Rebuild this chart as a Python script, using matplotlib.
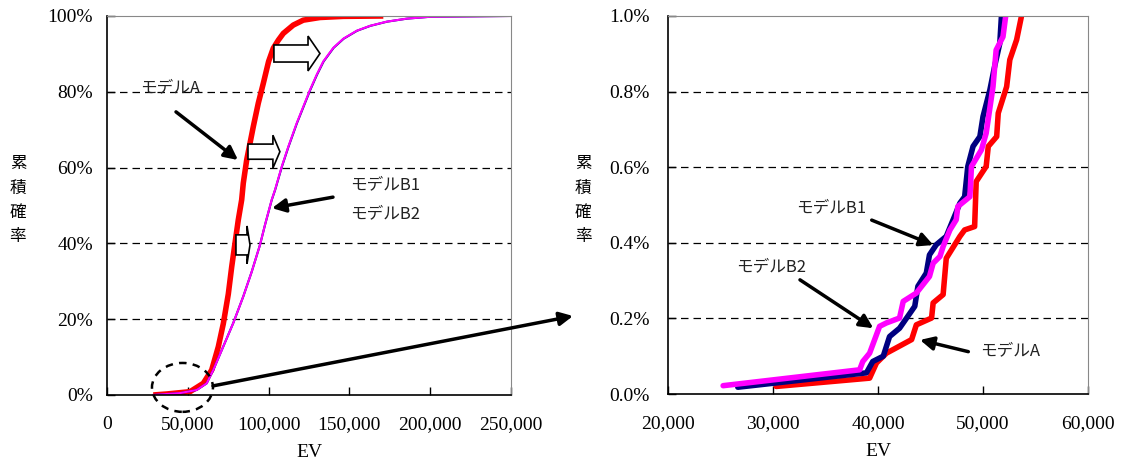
import numpy as np
import matplotlib.pyplot as plt
from matplotlib.patches import Ellipse, FancyArrow

plt.rcParams['font.family'] = ['Liberation Serif', 'Noto Sans CJK JP']
plt.rcParams['font.size'] = 14

# 全体の累積確率 (EV, %)
ev_a = [28650, 36950, 51360, 59590, 64790, 68870, 71970, 75060, 77170, 79200, 81250,
        83350, 84340, 86440, 88490, 90530, 93630, 96720, 100000, 102910, 106000, 109100,
        115280, 121470, 131800, 146220, 171000]
p_a = [0, 0.26, 0.87, 3.08, 6.6, 12.7, 18.8, 26.6, 33.8, 40.0, 46.2,
       51.5, 55.9, 62.0, 66.4, 70.8, 77.0, 82.2, 88.0, 91.5, 93.6, 95.4,
       97.6, 98.9, 99.6, 99.9, 100]

ev_b1 = [28650, 45170, 55510, 61700, 65780, 71970, 78150, 84340, 89540, 94680, 97800,
         101980, 104050, 108200, 112320, 117530, 125800, 129950, 134050, 140250, 146450,
         154750, 163000, 173300, 185700, 200200, 249400]
p_b1 = [0, 0.5, 1.32, 3.08, 6.6, 12.8, 19.0, 26.0, 32.5, 39.6, 44.9,
        51.5, 54.1, 60.2, 65.5, 71.7, 80.5, 84.5, 88.0, 91.6, 94.0,
        96.1, 97.4, 98.5, 99.3, 99.8, 100]

ev_b2 = [28650, 45170, 55510, 61700, 65780, 71970, 78150, 84340, 89540, 94680, 97770,
         101920, 103960, 108100, 112190, 117380, 125620, 129770, 133850, 140040, 146220,
         154510, 162740, 173080, 185450, 200000, 249400]
p_b2 = [0, 0.5, 1.32, 3.08, 6.6, 12.8, 19.0, 26.0, 32.5, 39.6, 44.9,
        51.5, 54.1, 60.2, 65.5, 71.7, 80.5, 84.5, 88.0, 91.6, 94.0,
        96.1, 97.4, 98.5, 99.3, 99.8, 100]

# 下側 1% の拡大 (EV, %)
ev_a_low = [30300, 39200, 39850, 40800, 43200, 43650, 45100, 45250, 46200, 46500, 47800,
            48250, 49200, 49350, 50300, 50500, 51300, 51450, 52250, 52550, 53200, 53650, 53900]
p_a_low = [0.020, 0.042, 0.082, 0.108, 0.144, 0.183, 0.201, 0.241, 0.263, 0.359, 0.417,
           0.434, 0.443, 0.562, 0.602, 0.655, 0.681, 0.743, 0.813, 0.884, 0.937, 0.998, 1.05]

ev_b1_low = [26650, 38900, 39500, 40500, 41100, 42050, 43500, 43800, 44600, 44900, 45550,
             46500, 47150, 47800, 48250, 48550, 49050, 49700, 50000, 50650, 51100, 51600, 51750, 51850]
p_b1_low = [0.018, 0.056, 0.086, 0.100, 0.152, 0.174, 0.232, 0.285, 0.320, 0.368, 0.395,
            0.417, 0.461, 0.505, 0.522, 0.602, 0.655, 0.681, 0.734, 0.804, 0.866, 0.928, 0.998, 1.05]

ev_b2_low = [25250, 38250, 38550, 39200, 40150, 40800, 42050, 42400, 43650, 44900, 45250,
             45900, 46200, 46850, 47450, 47600, 48750, 48900, 49850, 50300, 50950, 51250, 51900, 52150, 52250]
p_b2_low = [0.022, 0.064, 0.086, 0.108, 0.179, 0.188, 0.201, 0.245, 0.267, 0.311, 0.346,
            0.364, 0.390, 0.434, 0.461, 0.496, 0.522, 0.602, 0.646, 0.690, 0.813, 0.910, 0.945, 0.998, 1.05]

red, navy, magenta = '#ff0000', '#000080', '#ff00ff'
jp = ['Noto Sans CJK JP', 'Liberation Serif']

fig = plt.figure(figsize=(11.24, 4.66), dpi=100)
ax1 = fig.add_axes([0.0952, 0.1524, 0.3594, 0.8133])
ax2 = fig.add_axes([0.5943, 0.1545, 0.3737, 0.8112])


def style_axes(ax):
    for s in ['top', 'right']:
        ax.spines[s].set_color('#888888')
    for s in ['left', 'bottom']:
        ax.spines[s].set_color('black')
        ax.spines[s].set_linewidth(1.2)
    ax.tick_params(direction='in', length=6, width=1)
    ax.tick_params(axis='x', pad=15)
    ax.tick_params(axis='y', pad=10)


# 左: 全体
ax1.plot(ev_a, p_a, color=red, lw=4, solid_capstyle='butt', solid_joinstyle='round')
ax1.plot(ev_b1, p_b1, color=navy, lw=1.5)
ax1.plot(ev_b2, p_b2, color=magenta, lw=1.5)
ax1.set_xlim(0, 250000)
ax1.set_ylim(0, 100)
ax1.set_xticks(np.arange(0, 250001, 50000))
ax1.set_xticklabels([f'{v:,}' for v in range(0, 250001, 50000)])
ax1.set_yticks(np.arange(0, 101, 20))
ax1.set_yticklabels([f'{v}%' for v in range(0, 101, 20)])
for g in [20, 40, 60, 80]:
    ax1.axhline(g, color='black', lw=0.9, ls=(0, (6, 4)), zorder=0)
style_axes(ax1)
ax1.set_xlabel('EV', labelpad=8)

# シフトを示す白抜き矢印
for x0, y0, dx, w, hw, hl in [(103300, 90.1, 28500, 4.5, 9.2, 7400),
                             (87250, 64.2, 19750, 4.0, 8.7, 4330),
                             (79800, 39.6, 8700, 5.3, 10.0, 1860)]:
    ax1.add_patch(FancyArrow(x0, y0, dx, 0, width=w, head_width=hw, head_length=hl,
                             length_includes_head=True, fc='white', ec='black', lw=1.2, zorder=5))

arrow_kw = dict(arrowstyle='-|>', color='black', lw=2.5, mutation_scale=20, shrinkA=0, shrinkB=0)
ax1.text(20400, 81.0, 'モデルA', family=jp, fontsize=12, va='center', color='#222222')
ax1.annotate('', xy=(81060, 62.0), xytext=(42700, 74.7), arrowprops=arrow_kw)
ax1.text(150400, 55.4, 'モデルB1', family=jp, fontsize=12, va='center', color='#222222')
ax1.text(150400, 47.8, 'モデルB2', family=jp, fontsize=12, va='center', color='#222222')
ax1.annotate('', xy=(102100, 49.3), xytext=(139850, 52.2), arrowprops=arrow_kw)

ax1.add_patch(Ellipse((46700, 2.0), 37750, 12.9, fill=False, ec='black', lw=1.8,
                      ls=(0, (3, 2.5)), clip_on=False, zorder=6))
ax1.annotate('', xy=(573 / 1124, 1 - 316 / 466), xycoords='figure fraction',
             xytext=(65600, 2.4), textcoords='data',
             arrowprops=dict(arrowstyle='-|>', color='black', lw=2.5, mutation_scale=20,
                             shrinkA=0, shrinkB=0), annotation_clip=False)

# 右: 下側の拡大
ax2.plot(ev_a_low, p_a_low, color=red, lw=4, solid_capstyle='round')
ax2.plot(ev_b1_low, p_b1_low, color=navy, lw=4, solid_capstyle='round')
ax2.plot(ev_b2_low, p_b2_low, color=magenta, lw=4, solid_capstyle='round')
ax2.set_xlim(20000, 60000)
ax2.set_ylim(0, 1.0)
ax2.set_xticks(np.arange(20000, 60001, 10000))
ax2.set_xticklabels([f'{v:,}' for v in range(20000, 60001, 10000)])
ax2.set_yticks(np.arange(0, 1.01, 0.2))
ax2.set_yticklabels([f'{v:.1f}%' for v in np.arange(0, 1.01, 0.2)])
for g in [0.2, 0.4, 0.6, 0.8]:
    ax2.axhline(g, color='black', lw=0.9, ls=(0, (6, 4)), zorder=0)
style_axes(ax2)
ax2.tick_params(axis='y', pad=13)
ax2.set_xlabel('EV', labelpad=8)

ax2.text(32190, 0.492, 'モデルB1', family=jp, fontsize=12, va='center', color='#222222')
ax2.annotate('', xy=(45270, 0.394), xytext=(39400, 0.460), arrowprops=arrow_kw)
ax2.text(26476, 0.337, 'モデルB2', family=jp, fontsize=12, va='center', color='#222222')
ax2.annotate('', xy=(39552, 0.174), xytext=(32570, 0.302), arrowprops=arrow_kw)
ax2.text(49714, 0.115, 'モデルA', family=jp, fontsize=12, va='center', color='#222222')
ax2.annotate('', xy=(44000, 0.143), xytext=(48600, 0.112), arrowprops=arrow_kw)

# 縦書きの軸ラベル
for xf in [18 / 1124, 583 / 1124]:
    fig.text(xf, 1 - 200 / 466, '\n'.join('累積確率'), family=jp, fontsize=12,
             ha='center', va='center', linespacing=1.55)

fig.savefig('out.png', dpi=100)
